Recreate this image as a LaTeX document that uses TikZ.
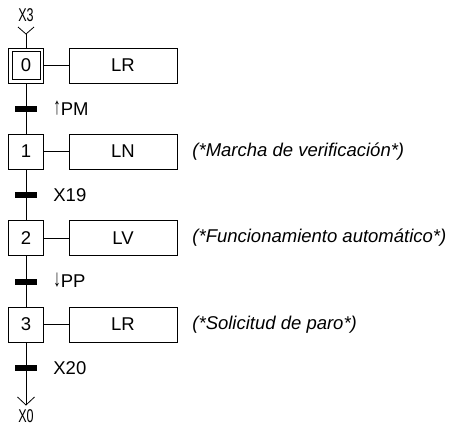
\documentclass[tikz,border=0pt]{standalone}
\usepackage{fontspec}
\setmainfont{Liberation Sans}
\usetikzlibrary{calc}
\newcommand{\grafsize}{\fontsize{18.5}{21}\selectfont}
% edge symbols, stretched to cap height
\newcommand{\edgeup}{\raisebox{0.04em}{\scalebox{0.8}[1.3]{↑}}}
\newcommand{\edgedown}{\raisebox{0.04em}{\scalebox{0.8}[1.3]{↓}}}
\begin{document}
\begin{tikzpicture}[x=1pt,y=-1pt,line width=0.8pt,
  stepbox/.style={draw,minimum width=35pt,minimum height=35pt,inner sep=0pt,font=\grafsize},
  innerbox/.style={draw,minimum width=28pt,minimum height=28pt,inner sep=0pt},
  actbox/.style={draw,minimum width=108pt,minimum height=35pt,inner sep=0pt,font=\grafsize},
  trbar/.style={fill=black,minimum width=22pt,minimum height=6pt,inner sep=0pt},
  trlabel/.style={anchor=west,inner sep=0pt,font=\grafsize},
  remark/.style={anchor=west,inner sep=0pt,font=\grafsize\itshape},
  tag/.style={inner sep=0pt,font=\grafsize}]
\useasboundingbox (0,0) rectangle (449,426);

% steps
\node[stepbox] (s0) at (26,65.5) {0};
\node[innerbox] (s0in) at (s0) {};
\node[stepbox] (s1) at (26,151.5) {1};
\node[stepbox] (s2) at (26,238) {2};
\node[stepbox] (s3) at (26,324.5) {3};

% actions
\node[actbox] (a0) at (123,65.5) {LR};
\node[actbox] (a1) at (123,151.5) {LN};
\node[actbox] (a2) at (123,238) {LV};
\node[actbox] (a3) at (123,324.5) {LR};

\foreach \i in {0,1,2,3} \draw (s\i.east) -- (a\i.west);

% remarks
\node[remark] (c1) at (192,151.5) {(*Marcha de verificación*)};
\node[remark] (c2) at (192,238) {(*Funcionamiento automático*)};
\node[remark] (c3) at (192,324.5) {(*Solicitud de paro*)};

% links between steps
\draw (s0.south) -- (s1.north);
\draw (s1.south) -- (s2.north);
\draw (s2.south) -- (s3.north);

% transitions
\node[trbar] (t0) at (26,109) {};
\node[trbar] (t1) at (26,195) {};
\node[trbar] (t2) at (26,281.5) {};
\node[trbar] (t3) at (26,368) {};
\node[trlabel] (r0) at (53,108) {\edgeup PM};
\node[trlabel] (r1) at (53,195) {X19};
\node[trlabel] (r2) at (53,280.5) {\edgedown PP};
\node[trlabel] (r3) at (53,368) {X20};

% incoming link from X3
\node[tag] (x3) at (26,15.5) {\scalebox{0.68}[1]{X3}};
\coordinate (inv) at (26,34);
\draw (s0.north) -- (inv);
\draw ($(inv)+(-8,-7)$) -- (inv) -- ($(inv)+(8,-7)$);

% outgoing link to X0
\node[tag] (x0) at (26,416) {\scalebox{0.68}[1]{X0}};
\coordinate (outv) at (26,405);
\draw (s3.south) -- (outv);
\draw ($(outv)+(-8.5,-8)$) -- (outv) -- ($(outv)+(8.5,-8)$);
\end{tikzpicture}
\end{document}
